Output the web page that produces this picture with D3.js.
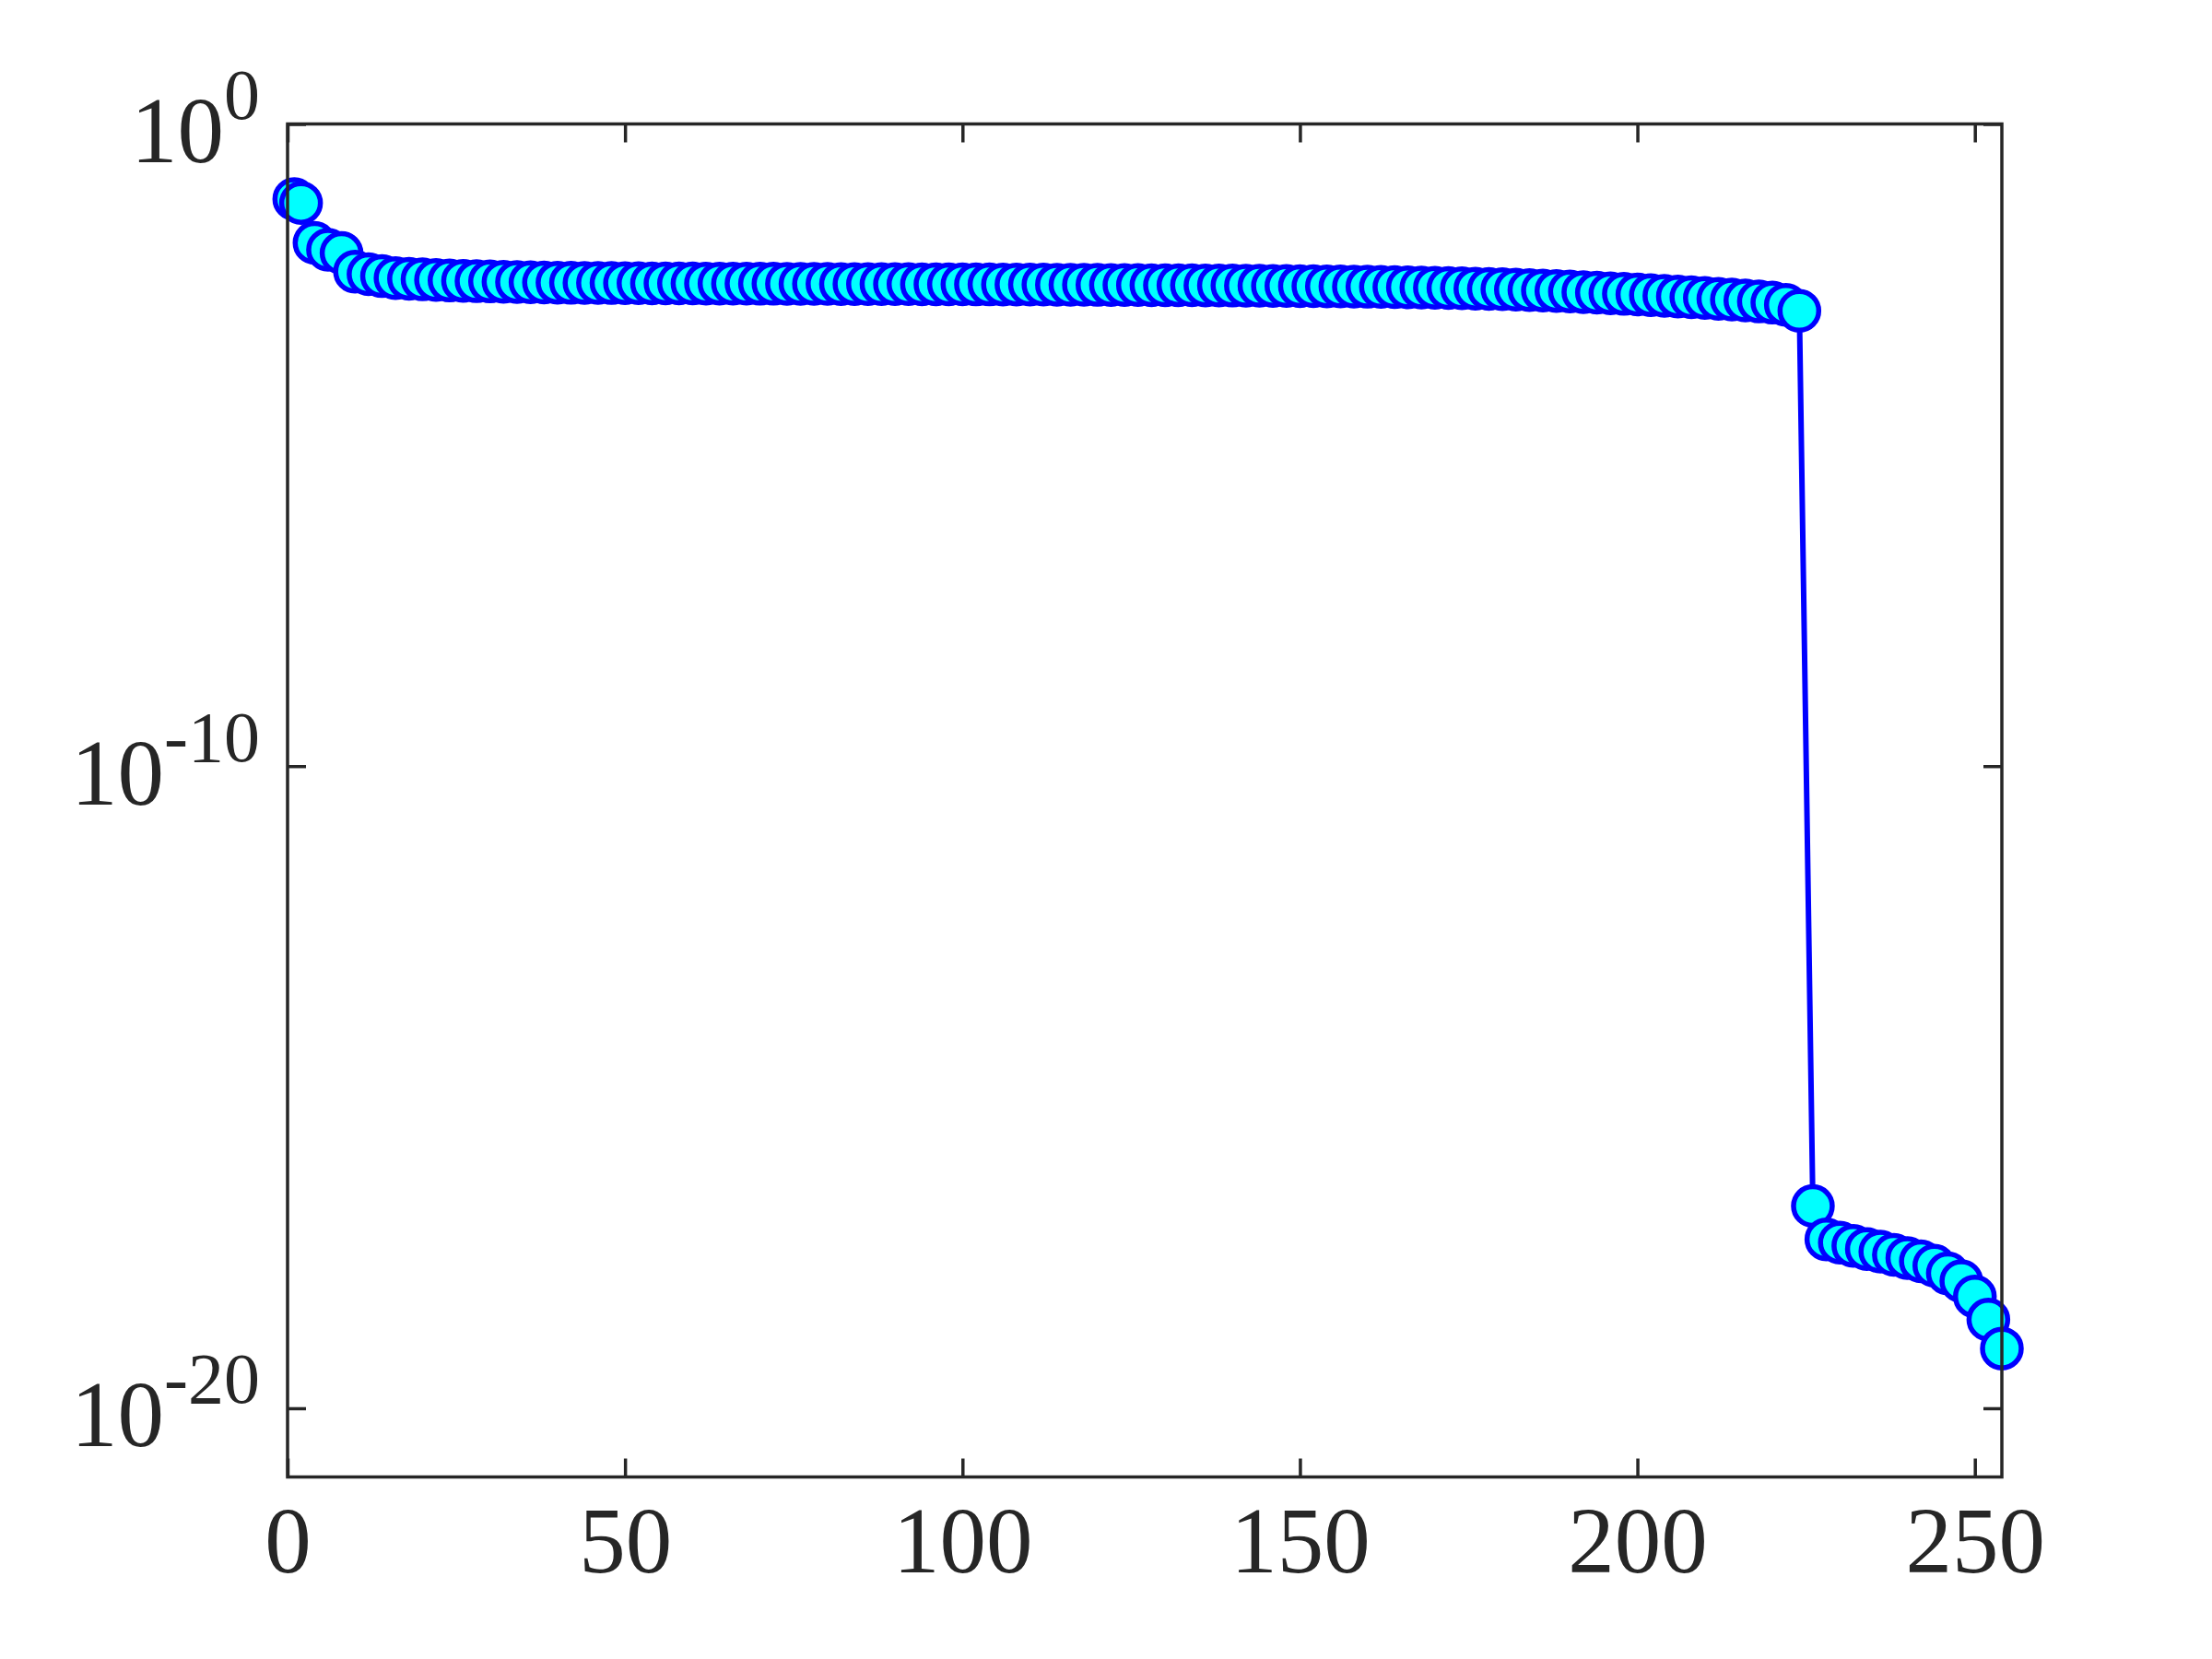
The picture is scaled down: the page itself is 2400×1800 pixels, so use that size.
<!DOCTYPE html>
<html>
<head>
<meta charset="utf-8">
<script src="https://cdn.jsdelivr.net/npm/d3@7"></script>
<style>
  html, body { margin: 0; padding: 0; background: #ffffff; }
  svg { display: block; }
</style>
</head>
<body>
<div id="chart"></div>
<script>
// ---------- data ----------
const indexHigh = [1,2,4,6,8,10,12,14,16,18,20,22,24,26,28,30,32,34,36,38,40,
  42,44,46,48,50,52,54,56,58,60,62,64,66,68,70,72,74,76,78,80,
  82,84,86,88,90,92,94,96,98,100,102,104,106,108,110,112,114,116,118,120,
  122,124,126,128,130,132,134,136,138,140,142,144,146,148,150,152,154,156,158,160,
  162,164,166,168,170,172,174,176,178,180,182,184,186,188,190,192,194,196,198,200,
  202,204,206,208,210,212,214,216,218,220,222,224];
const valuesHigh = [6.76e-2,5.89e-2,1.41e-2,1.10e-2,9.77e-3,5.01e-3,4.57e-3,4.27e-3,3.98e-3,3.89e-3,3.80e-3,
  3.72e-3,3.65e-3,3.61e-3,3.56e-3,3.53e-3,3.49e-3,3.46e-3,3.42e-3,3.40e-3,3.38e-3,
  3.36e-3,3.35e-3,3.34e-3,3.33e-3,3.32e-3,3.31e-3,3.30e-3,3.30e-3,3.29e-3,3.28e-3,
  3.27e-3,3.27e-3,3.26e-3,3.26e-3,3.25e-3,3.25e-3,3.24e-3,3.24e-3,3.23e-3,3.23e-3,
  3.22e-3,3.22e-3,3.21e-3,3.21e-3,3.20e-3,3.20e-3,3.19e-3,3.19e-3,3.18e-3,3.18e-3,
  3.17e-3,3.17e-3,3.16e-3,3.16e-3,3.15e-3,3.15e-3,3.14e-3,3.13e-3,3.13e-3,3.12e-3,
  3.11e-3,3.11e-3,3.10e-3,3.09e-3,3.08e-3,3.08e-3,3.07e-3,3.06e-3,3.05e-3,3.04e-3,
  3.03e-3,3.02e-3,3.01e-3,3.00e-3,2.99e-3,2.98e-3,2.96e-3,2.95e-3,2.93e-3,2.92e-3,
  2.90e-3,2.88e-3,2.86e-3,2.84e-3,2.82e-3,2.79e-3,2.76e-3,2.73e-3,2.70e-3,2.67e-3,
  2.63e-3,2.59e-3,2.55e-3,2.51e-3,2.46e-3,2.41e-3,2.36e-3,2.31e-3,2.26e-3,2.21e-3,
  2.16e-3,2.11e-3,2.06e-3,2.00e-3,1.95e-3,1.89e-3,1.84e-3,1.78e-3,1.72e-3,1.65e-3,
  1.53e-3,1.23e-3];
const indexLow = [226,228,230,232,234,236,238,240,242,244,246,248,250,252,254];
const valuesLow = [1.41e-17,4.27e-18,3.80e-18,3.39e-18,3.02e-18,2.75e-18,2.45e-18,2.19e-18,
  1.95e-18,1.66e-18,1.26e-18,9.55e-19,5.50e-19,2.40e-19,8.51e-20];

const xTicks = [0, 50, 100, 150, 200, 250];
const xTickLabels = ["0", "50", "100", "150", "200", "250"];
const yTicks = [1e0, 1e-10, 1e-20];
const yTickExponents = ["0", "-10", "-20"];
const xDomain = [0, 254];
const yDomain = [Math.pow(10, -21.07), 1];

// ---------- layout ----------
const W = 2400, H = 1800;
const plotLeft = 312, plotRight = 2172, plotTop = 134.5, plotBottom = 1602.5;
const ink = "#262626";
const fontFamily = "'Liberation Serif', 'Times New Roman', serif";
const tickLen = 20;

const points = indexHigh.map((xv, i) => ({x: xv, v: valuesHigh[i]}))
  .concat(indexLow.map((xv, i) => ({x: xv, v: valuesLow[i]})));

const svg = d3.select("#chart").append("svg")
  .attr("width", W).attr("height", H)
  .style("background", "#ffffff");

const xScale = d3.scaleLinear().domain(xDomain).range([plotLeft, plotRight]);
const yScale = d3.scaleLog().domain(yDomain).range([plotBottom, plotTop]);

// line
const lineGen = d3.line().x(d => xScale(d.x)).y(d => yScale(d.v));
svg.append("path")
  .datum(points)
  .attr("d", lineGen)
  .attr("fill", "none")
  .attr("stroke", "#0000ff")
  .attr("stroke-width", 6)
  .attr("stroke-linejoin", "round");

// markers (later ones on top)
svg.append("g").selectAll("circle")
  .data(points)
  .join("circle")
  .attr("cx", d => xScale(d.x))
  .attr("cy", d => yScale(d.v))
  .attr("r", 21)
  .attr("fill", "#00ffff")
  .attr("stroke", "#0000ff")
  .attr("stroke-width", 5.5);

// axes
function styleAxis(g) {
  g.select(".domain").remove();
  g.selectAll(".tick line").attr("stroke", ink).attr("stroke-width", 3.5);
  g.selectAll(".tick text").attr("fill", ink);
}

const gx = svg.append("g")
  .attr("transform", `translate(0,${plotBottom})`)
  .call(d3.axisBottom(xScale).tickValues(xTicks)
    .tickFormat((d, i) => xTickLabels[i])
    .tickSizeInner(-tickLen).tickSizeOuter(0).tickPadding(31.5))
  .attr("font-family", fontFamily)
  .attr("font-size", 101);
styleAxis(gx);

const gxTop = svg.append("g")
  .attr("transform", `translate(0,${plotTop})`)
  .call(d3.axisTop(xScale).tickValues(xTicks).tickFormat(() => "")
    .tickSizeInner(-tickLen).tickSizeOuter(0));
styleAxis(gxTop);

const gy = svg.append("g")
  .attr("transform", `translate(${plotLeft},0)`)
  .call(d3.axisLeft(yScale).tickValues(yTicks).tickFormat(() => "")
    .tickSizeInner(-tickLen).tickSizeOuter(0));
styleAxis(gy);
gy.selectAll(".tick text").remove();
gy.selectAll(".tick").each(function(d, i) {
  const t = d3.select(this).append("text")
    .attr("x", -30)
    .attr("y", 41)
    .attr("text-anchor", "end")
    .attr("fill", ink)
    .attr("font-family", fontFamily)
    .attr("font-size", 101);
  t.append("tspan").text("10");
  t.append("tspan").attr("dy", -47).attr("font-size", 78).text(yTickExponents[i]);
});

const gyRight = svg.append("g")
  .attr("transform", `translate(${plotRight},0)`)
  .call(d3.axisRight(yScale).tickValues(yTicks).tickFormat(() => "")
    .tickSizeInner(-tickLen).tickSizeOuter(0));
styleAxis(gyRight);

// box
svg.append("rect")
  .attr("x", plotLeft).attr("y", plotTop)
  .attr("width", plotRight - plotLeft).attr("height", plotBottom - plotTop)
  .attr("fill", "none")
  .attr("stroke", ink)
  .attr("stroke-width", 3.5);
</script>
</body>
</html>
